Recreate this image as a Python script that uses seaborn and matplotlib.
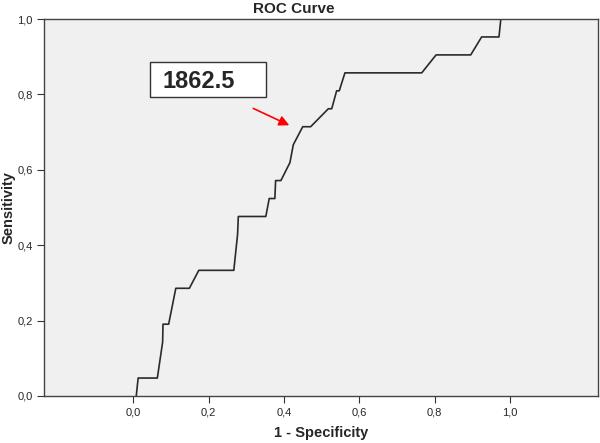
import pandas as pd
import matplotlib.pyplot as plt
import seaborn as sns
from matplotlib.patches import Rectangle
from matplotlib.ticker import FuncFormatter

# ROC curve points
fpr = [0.008, 0.013, 0.064, 0.078, 0.079, 0.094, 0.113, 0.149, 0.174, 0.267,
       0.277, 0.279, 0.352, 0.361, 0.376, 0.378, 0.392, 0.404, 0.416, 0.425,
       0.450, 0.471, 0.518, 0.527, 0.540, 0.547, 0.562, 0.766, 0.804, 0.896,
       0.925, 0.971, 0.976, 1.000]
tpr_count = [0, 1, 1, 3, 4, 4, 6, 6, 7, 7,
             9, 10, 10, 11, 11, 12, 12, 12.5, 13, 14,
             15, 15, 16, 16, 17, 17, 18, 18, 19, 19,
             20, 20, 21, 21]
n_pos = 21
cutoff_label = "1862.5"
ticks = [0.0, 0.2, 0.4, 0.6, 0.8, 1.0]

df = pd.DataFrame({"fpr": fpr, "tpr": [c / n_pos for c in tpr_count]})

sns.set_style("white")
plt.rcParams["font.family"] = ["Liberation Sans", "DejaVu Sans"]

fig = plt.figure(figsize=(6, 4.43), dpi=100)
ax = fig.add_axes([0.0733, 0.1061, 0.9234, 0.851])
ax.set_facecolor("#f0f0f0")

sns.lineplot(data=df, x="fpr", y="tpr", sort=False, estimator=None,
             color="#2a2a2a", linewidth=1.2, ax=ax)

ax.set_xlim(-0.237, 1.234)
ax.set_ylim(0, 1)
ax.set_xticks(ticks)
ax.set_yticks(ticks)
fmt = FuncFormatter(lambda v, p: f"{v:.1f}".replace(".", ","))
ax.xaxis.set_major_formatter(fmt)
ax.yaxis.set_major_formatter(fmt)
ax.tick_params(axis="both", direction="out", length=5, width=0.8,
               color="#333333", labelsize=8, pad=3, bottom=True, left=True)

for s in ax.spines.values():
    s.set_color("#444444")
    s.set_linewidth(1.0)

ax.set_xlabel("1 - Specificity", fontsize=10.5, fontweight="bold")
ax.set_ylabel("Sensitivity", fontsize=10.5, fontweight="bold")
ax.xaxis.set_label_coords(0.5, -0.08)
ax.yaxis.set_label_coords(-0.052, 0.5)
fig.text(0.49, 0.98, "ROC Curve", ha="center", va="center",
         fontsize=11, fontweight="bold")

# cutoff annotation
ax.add_patch(Rectangle((0.044, 0.792), 0.308, 0.094, facecolor="white",
                       edgecolor="#333333", linewidth=1.0, zorder=3))
ax.text(0.079, 0.835, cutoff_label, fontsize=17, fontweight="bold",
        va="center", ha="left", zorder=4)
ax.annotate("", xy=(0.421, 0.715), xytext=(0.312, 0.766),
            arrowprops=dict(arrowstyle="-|>", color="red", lw=1.2,
                            mutation_scale=15))

fig.savefig("out.png", dpi=100)
